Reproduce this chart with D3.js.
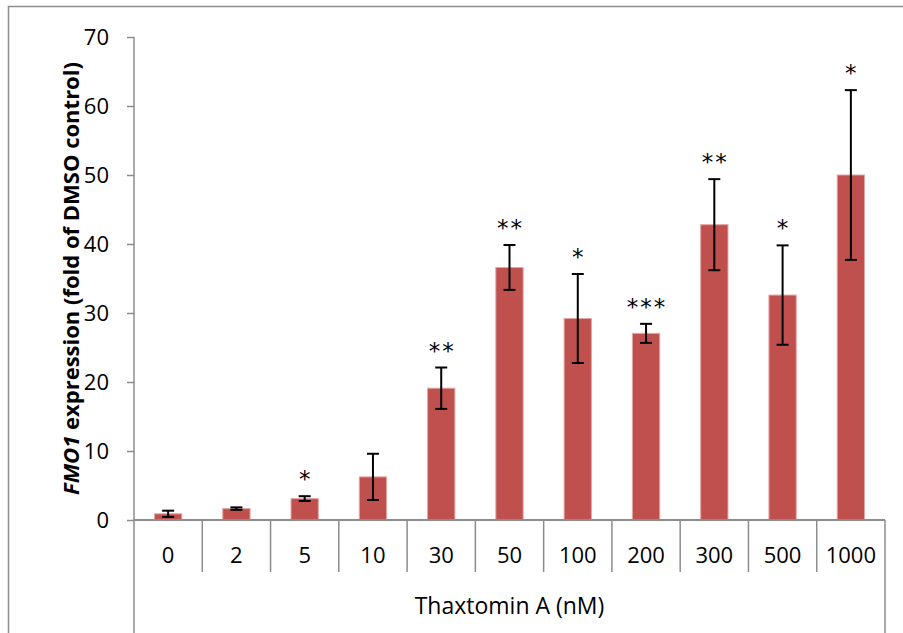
<!DOCTYPE html>
<html>
<head>
<meta charset="utf-8">
<script src="https://cdn.jsdelivr.net/npm/d3@7"></script>
<style>
  body { margin: 0; background: #fff; }
  svg text { font-family: "Open Sans", sans-serif; fill: #000; }
</style>
</head>
<body>
<div id="chart"></div>
<script>
// data
var doses = ["0", "2", "5", "10", "30", "50", "100", "200", "300", "500", "1000"];
var means = [0.9, 1.65, 3.1, 6.25, 19.1, 36.6, 29.2, 27.05, 42.8, 32.6, 50.0];
var errs  = [0.45, 0.18, 0.35, 3.35, 3.0, 3.25, 6.45, 1.38, 6.6, 7.2, 12.3];
var stars = ["", "", "*", "", "**", "**", "*", "***", "**", "*", "*"];
var yTicks = [0, 10, 20, 30, 40, 50, 60, 70];

var W = 903, H = 633;
var margin = {top: 37, left: 134, right: 18, bottom: 113};
var plotW = W - margin.left - margin.right;
var plotH = H - margin.top - margin.bottom;

var svg = d3.select("#chart").append("svg")
    .attr("width", W)
    .attr("height", H);

// chart frame
svg.append("rect")
    .attr("x", 8.5).attr("y", 6.5)
    .attr("width", W).attr("height", H)
    .attr("fill", "none")
    .attr("stroke", "#8c8c8c")
    .attr("stroke-width", 1.5);

var g = svg.append("g")
    .attr("transform", "translate(" + margin.left + "," + margin.top + ")");

var x = d3.scaleBand()
    .domain(doses)
    .range([0, plotW])
    .paddingInner(0)
    .paddingOuter(0);

var y = d3.scaleLinear()
    .domain([0, 70])
    .range([plotH, 0]);

var axisColor = "#8c8c8c";

// y axis
var yAxis = d3.axisLeft(y).tickValues(yTicks).tickSize(7).tickPadding(18);
var yG = g.append("g").attr("class", "y-axis").call(yAxis);
yG.select(".domain").remove();
yG.selectAll("line").attr("stroke", axisColor).attr("stroke-width", 1.5);
yG.selectAll("text").style("font-size", "22px").attr("fill", "#000");
g.append("line")
    .attr("x1", 0).attr("x2", 0)
    .attr("y1", y(70)).attr("y2", H - margin.top)
    .attr("stroke", axisColor).attr("stroke-width", 1.5);

// y title
var yTitle = g.append("text")
    .attr("transform", "translate(" + (-63) + "," + (plotH / 2) + ") rotate(-90)")
    .attr("text-anchor", "middle")
    .attr("dy", "0.35em")
    .style("font-size", "22px")
    .style("font-weight", "bold");
yTitle.append("tspan").style("font-style", "italic").text("FMO1");
yTitle.append("tspan").text(" expression (fold of DMSO control)");

// bars
var barW = x.bandwidth() * 0.4;
g.selectAll("rect.bar")
    .data(doses)
    .enter().append("rect")
    .attr("class", "bar")
    .attr("x", function(d) { return x(d) + (x.bandwidth() - barW) / 2; })
    .attr("y", function(d, i) { return y(means[i]); })
    .attr("width", barW)
    .attr("height", function(d, i) { return plotH - y(means[i]); })
    .attr("fill", "#c0504d")
    .attr("stroke", "#e3a6a4")
    .attr("stroke-width", 1);

// x axis (category boxes)
g.append("line")
    .attr("x1", 0).attr("x2", plotW)
    .attr("y1", plotH).attr("y2", plotH)
    .attr("stroke", axisColor).attr("stroke-width", 2);
g.selectAll("line.sep")
    .data(doses.slice(1))
    .enter().append("line")
    .attr("class", "sep")
    .attr("x1", function(d) { return x(d); })
    .attr("x2", function(d) { return x(d); })
    .attr("y1", plotH).attr("y2", plotH + 52)
    .attr("stroke", axisColor).attr("stroke-width", 1.5);
g.append("line")
    .attr("x1", plotW).attr("x2", plotW)
    .attr("y1", plotH).attr("y2", H - margin.top)
    .attr("stroke", axisColor).attr("stroke-width", 1.5);
g.selectAll("text.cat")
    .data(doses)
    .enter().append("text")
    .attr("class", "cat")
    .attr("x", function(d) { return x(d) + x.bandwidth() / 2; })
    .attr("y", plotH + 43)
    .attr("text-anchor", "middle")
    .style("font-size", "22px")
    .text(function(d) { return d; });
g.append("text")
    .attr("x", plotW / 2)
    .attr("y", plotH + 94)
    .attr("text-anchor", "middle")
    .style("font-size", "23px")
    .text("Thaxtomin A (nM)");

// error bars
var cap = 6;
var eb = g.selectAll("g.err")
    .data(doses)
    .enter().append("g")
    .attr("class", "err")
    .attr("stroke", "#000")
    .attr("stroke-width", 2);
eb.append("line")
    .attr("x1", function(d) { return x(d) + x.bandwidth() / 2; })
    .attr("x2", function(d) { return x(d) + x.bandwidth() / 2; })
    .attr("y1", function(d, i) { return y(means[i] + errs[i]); })
    .attr("y2", function(d, i) { return y(means[i] - errs[i]); });
eb.append("line")
    .attr("x1", function(d) { return x(d) + x.bandwidth() / 2 - cap; })
    .attr("x2", function(d) { return x(d) + x.bandwidth() / 2 + cap; })
    .attr("y1", function(d, i) { return y(means[i] + errs[i]); })
    .attr("y2", function(d, i) { return y(means[i] + errs[i]); });
eb.append("line")
    .attr("x1", function(d) { return x(d) + x.bandwidth() / 2 - cap; })
    .attr("x2", function(d) { return x(d) + x.bandwidth() / 2 + cap; })
    .attr("y1", function(d, i) { return y(means[i] - errs[i]); })
    .attr("y2", function(d, i) { return y(means[i] - errs[i]); });

// significance stars
g.selectAll("text.star")
    .data(doses)
    .enter().append("text")
    .attr("class", "star")
    .attr("x", function(d) { return x(d) + x.bandwidth() / 2 + 1; })
    .attr("y", function(d, i) { return y(means[i] + errs[i]) - 9; })
    .attr("text-anchor", "middle")
    .style("font-family", "'DejaVu Sans', sans-serif")
    .style("font-size", "23px")
    .style("letter-spacing", "2px")
    .text(function(d, i) { return stars[i]; });
</script>
</body>
</html>
